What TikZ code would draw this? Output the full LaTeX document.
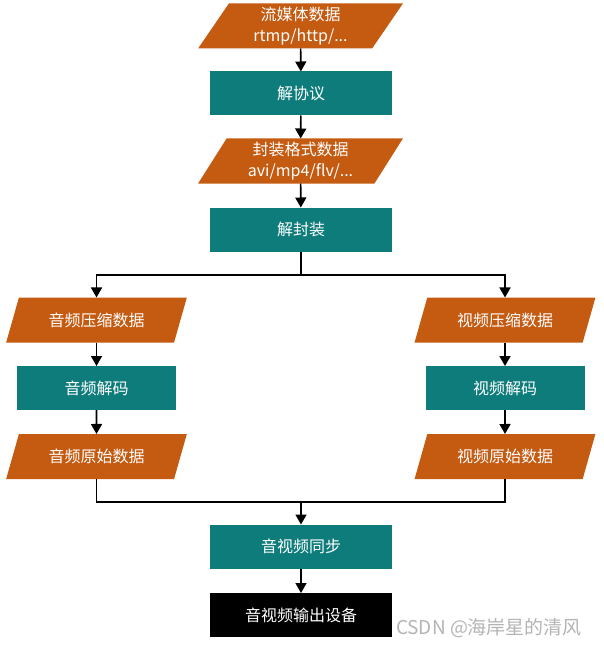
\documentclass[tikz,border=0pt]{standalone}
\usepackage{fontspec}
\setmainfont{Noto Sans CJK SC}
\usetikzlibrary{shapes.geometric,arrows.meta}
\definecolor{dataor}{HTML}{C55A11}
\definecolor{proctl}{HTML}{0E7C7B}
\definecolor{wmgray}{HTML}{B4B4B4}
\tikzset{
  every node/.style={inner sep=0pt, outer sep=0pt},
  txt/.style={text=white, align=center, font=\fontsize{16}{21}\selectfont},
  databox/.style={txt, trapezium, trapezium left angle=62, trapezium right angle=118,
     trapezium stretches=true, fill=dataor, minimum height=45pt},
  procbox/.style={txt, rectangle, fill=proctl, minimum height=44pt, minimum width=182pt},
  outbox/.style={txt, rectangle, fill=black, minimum height=44pt, minimum width=182pt},
  arr/.style={draw=black, line width=1.6pt, -{Triangle[width=11pt,length=10pt]}},
  ln/.style={draw=black, line width=1.6pt},
}
\begin{document}
\begin{tikzpicture}[x=1pt,y=-1pt]
\useasboundingbox (0,0) rectangle (603,647);
\node[databox, minimum width=205pt] (s1) at (300.5,26) {流媒体数据\\rtmp/http/...};
\node[procbox] (p1) at (301,93.5) {解协议};
\node[databox, minimum width=205pt] (s2) at (300.5,161) {封装格式数据\\avi/mp4/flv/...};
\node[procbox] (p2) at (301,229.5) {解封装};

\node[databox, minimum width=181pt] (L1) at (96.5,320) {音频压缩数据};
\node[procbox, minimum width=159pt] (L2) at (96.5,388) {音频解码};
\node[databox, minimum width=181pt] (L3) at (96.5,456.5) {音频原始数据};

\node[databox, minimum width=181pt] (R1) at (505,320) {视频压缩数据};
\node[procbox, minimum width=159pt] (R2) at (505,388) {视频解码};
\node[databox, minimum width=181pt] (R3) at (505,456.5) {视频原始数据};

\node[procbox] (sy) at (301,546.5) {音视频同步};
\node[outbox] (out) at (301,615) {音视频输出设备};

\node[text=wmgray, font=\fontsize{19}{22}\selectfont, anchor=west] (wm) at (396,628) {CSDN @海岸星的清风};

\coordinate (b) at (301,275);
\coordinate (m) at (301,502);

\draw[arr] (s1) -- (p1);
\draw[arr] (p1) -- (s2);
\draw[arr] (s2) -- (p2);
\draw[arr] (p2.south) -- (b) -| (L1.north);
\draw[arr] (b) -| (R1.north);
\draw[arr] (L1) -- (L2);
\draw[arr] (L2) -- (L3);
\draw[arr] (R1) -- (R2);
\draw[arr] (R2) -- (R3);
\draw[ln] (L3.south) |- (m);
\draw[ln] (R3.south) |- (m);
\draw[arr] (m) -- (sy.north);
\draw[arr] (sy) -- (out);
\end{tikzpicture}
\end{document}
